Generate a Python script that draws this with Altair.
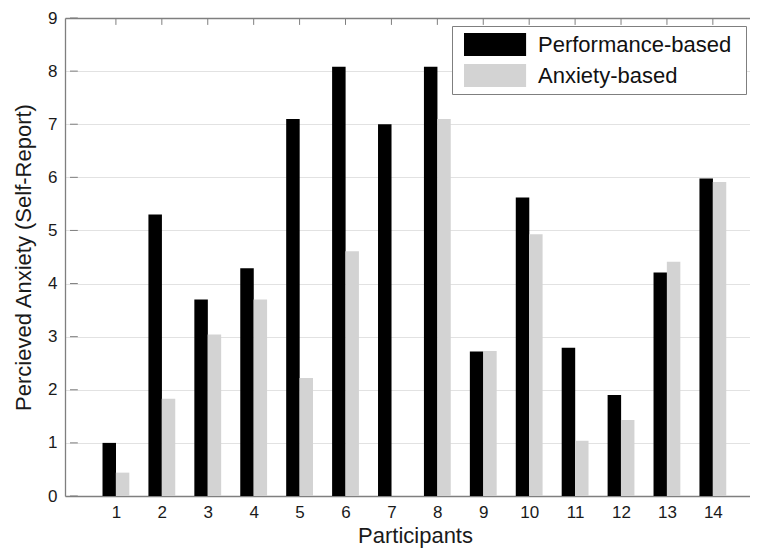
import altair as alt
import pandas as pd

participants = list(range(1, 15))
performance = [1.0, 5.3, 3.7, 4.29, 7.1, 8.08, 7.0, 8.08, 2.72, 5.62, 2.79, 1.9, 4.21, 5.98]
anxiety = [0.44, 1.83, 3.04, 3.7, 2.22, 4.61, 0.0, 7.1, 2.73, 4.93, 1.04, 1.43, 4.41, 5.91]
series = ["Performance-based", "Anxiety-based"]
colors = ["#000000", "#d3d3d3"]
y_ticks = list(range(0, 10))
x_ticks = participants

rows = []
for p, a, b in zip(participants, performance, anxiety):
    rows.append({"Participant": p, "Series": series[0], "Value": a})
    rows.append({"Participant": p, "Series": series[1], "Value": b})
df = pd.DataFrame(rows)

FONT = "Liberation Sans"
AX = "#7f7f7f"
HALF = 0.145  # half of a bar's width, in participant units

xscale = alt.Scale(domain=[0, 14.7], nice=False, zero=False)
yscale = alt.Scale(domain=[0, 9], nice=False)

color = alt.Color(
    "Series:N",
    scale=alt.Scale(domain=series, range=colors),
    legend=alt.Legend(
        title="\u00a0",
        titleOrient="right",
        titleFontSize=4,
        titlePadding=8,
        orient="none",
        legendX=387,
        legendY=8,
        symbolType="M-1,-1L4.4,-1L4.4,1L-1,1Z",
        symbolSize=529,
        symbolStrokeWidth=0,
        symbolOffset=5,
        labelFont=FONT,
        labelFontSize=22,
        labelColor="#111111",
        labelOffset=51,
        labelLimit=400,
        rowPadding=8,
        padding=7,
        strokeColor=AX,
        fillColor="white",
    ),
)

bars = (
    alt.Chart(df)
    .transform_calculate(
        xpos=f"datum.Series == '{series[0]}' ? datum.Participant - {HALF} : datum.Participant + {HALF}"
    )
    .mark_bar(width=13.5)
    .encode(
        x=alt.X(
            "xpos:Q",
            scale=xscale,
            axis=alt.Axis(
                orient="bottom",
                values=x_ticks,
                ticks=False,
                grid=False,
                title="Participants",
                labelPadding=8,
                titlePadding=5,
                titleX=350,
            ),
        ),
        y=alt.Y(
            "Value:Q",
            scale=yscale,
            axis=alt.Axis(
                orient="left",
                values=y_ticks,
                ticks=False,
                grid=True,
                gridColor="#e2e2e2",
                title="Percieved Anxiety (Self-Report)",
                labelPadding=8,
                titlePadding=12,
            ),
        ),
        color=color,
    )
)

ytick_df = pd.DataFrame({"tick": y_ticks})
xtick_df = pd.DataFrame({"tick": x_ticks})

left_ticks = alt.Chart(ytick_df).mark_rule(color=AX, strokeWidth=1).encode(
    y=alt.Y("tick:Q", scale=yscale, axis=None),
    x=alt.datum(0, scale=xscale, axis=None),
    x2=alt.datum(0.17),
)
top_ticks = alt.Chart(xtick_df).mark_rule(color=AX, strokeWidth=1).encode(
    x=alt.X(
        "tick:Q",
        scale=xscale,
        axis=alt.Axis(orient="top", labels=False, ticks=False, grid=False, title=None),
    ),
    y=alt.datum(9, scale=yscale, axis=None),
    y2=alt.datum(8.87),
)

chart = (
    alt.layer(bars, left_ticks, top_ticks)
    .resolve_axis(x="independent", y="independent")
    .properties(
        width=685,
        height=478,
        autosize=alt.AutoSizeParams(type="none"),
        padding={"left": 57, "top": 10, "right": 0, "bottom": 54},
        background="white",
    )
    .configure_view(stroke=None)
    .configure_axis(
        domainColor=AX,
        domainWidth=1.3,
        labelFont=FONT,
        labelFontSize=17,
        labelColor="#1a1a1a",
        titleFont=FONT,
        titleFontSize=22,
        titleFontWeight="normal",
        titleColor="#1a1a1a",
    )
)

chart.save("out.html", embed_options={"renderer": "svg", "actions": False})
